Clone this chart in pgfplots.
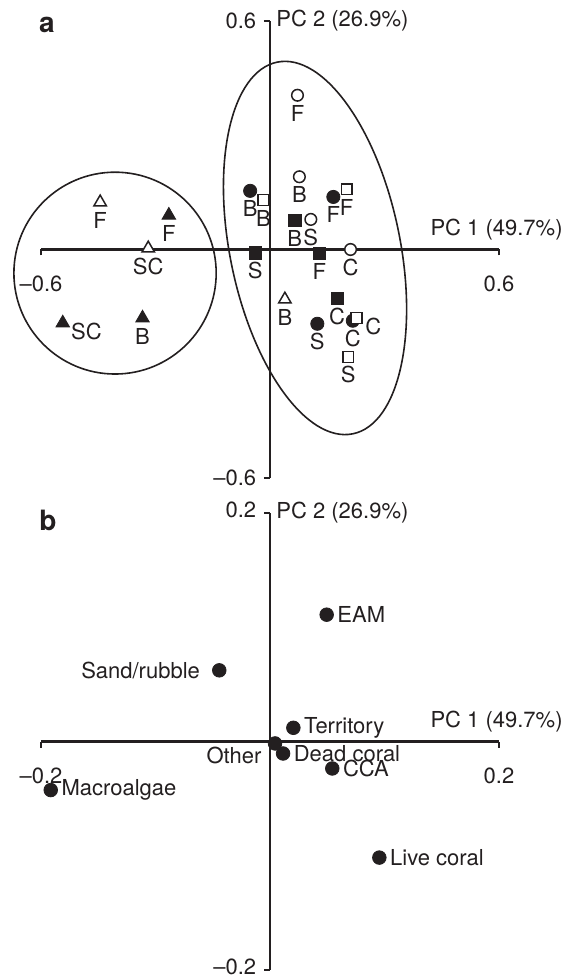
\documentclass[border=0pt]{standalone}
\usepackage{fontspec}
\setmainfont{TeX Gyre Heros}
\usepackage{pgfplots}
\pgfplotsset{compat=1.18}
\definecolor{ink}{RGB}{35,31,32}
\newcommand{\fsz}{\fontsize{11}{13}\selectfont}

\pgfplotsset{
  pca/.style={
    scale only axis, width=229pt, height=228.5pt,
    axis lines=middle,
    axis line style={-, line width=1.1pt, ink},
    clip=false,
    tick align=outside, major tick length=3pt,
    tick style={line width=1.1pt, ink},
    tick label style={font=\fsz, text=ink},
    xticklabel style={anchor=center, yshift=-14pt, inner sep=1pt},
    yticklabel style={anchor=east, inner sep=1pt, xshift=-2.7pt},
    every axis x label/.style={at={(axis description cs:1,0.5)}, anchor=east,
      xshift=32pt, yshift=10pt, font=\fsz, text=ink, inner sep=0pt},
    every axis y label/.style={at={(axis description cs:0.5,1)}, anchor=west,
      xshift=3pt, font=\fsz, text=ink, inner sep=0pt},
    xlabel={PC 1 (49.7\%)}, ylabel={PC 2 (26.9\%)},
  },
  lab/.style={nodes near coords, point meta=explicit symbolic,
    every node near coord/.append style={font=\fsz, text=ink, inner sep=0pt}},
  below lab/.style={lab, every node near coord/.append style={anchor=center, yshift=-9pt}},
  right lab/.style={lab, every node near coord/.append style={anchor=west, xshift=4pt, yshift=-4.2pt}},
  side lab/.style={lab, every node near coord/.append style={anchor=west, xshift=5.2pt}},
  full/.style={only marks, color=ink, mark options={fill=ink, draw=ink}},
  open/.style={only marks, color=ink, mark options={fill=white, draw=ink, line width=0.75pt}},
}

\begin{document}
\begin{tikzpicture}
\useasboundingbox (-20.5pt,-250.5pt) rectangle (264.5pt,239pt);

\node[font=\bfseries\fontsize{14}{16}\selectfont, text=ink] at (3pt,226.5pt) {a};
\node[font=\bfseries\fontsize{14}{16}\selectfont, text=ink] at (3.5pt,-21pt) {b};

% panel a: site scores
\begin{axis}[pca, at={(0,0)}, anchor=south west,
    xmin=-0.6, xmax=0.6, ymin=-0.6, ymax=0.6,
    xtick={-0.6,0.6}, xticklabels={\textendash0.6, 0.6},
    ytick={-0.6,0.6}, yticklabels={\textendash0.6, 0.6}]

\draw[line width=0.8pt, ink] (axis cs:-0.406,-0.062) circle [radius=0.265];
\draw[line width=0.8pt, ink, rotate around={11.5:(axis cs:0.118,0.004)}]
  (axis cs:0.118,0.004) ellipse [x radius=0.223, y radius=0.498];

% filled circles
\addplot[full, mark=*, mark size=3.3pt, below lab] coordinates {
  (-0.052,0.154) [B] (0.166,0.138) [F] (0.124,-0.195) [S] (0.217,-0.187) [C]};
% filled squares
\addplot[full, mark=square*, mark size=3.1pt, below lab] coordinates {
  (-0.039,-0.009) [S] (0.065,0.077) [B] (0.129,-0.010) [F] (0.176,-0.128) [C]};
% filled triangles
\addplot[full, mark=triangle*, mark size=3.9pt, below lab] coordinates {
  (-0.265,0.090) [F] (-0.334,-0.180) [B]};
\addplot[full, mark=triangle*, mark size=3.9pt, right lab] coordinates {
  (-0.543,-0.193) [SC]};
% open circles
\addplot[open, mark=*, mark size=2.9pt, below lab] coordinates {
  (0.072,0.405) [F] (0.077,0.191) [B] (0.107,0.079) [S] (0.211,0.000) [C]};
% open squares
\addplot[open, mark=square*, mark size=2.7pt, below lab] coordinates {
  (-0.017,0.130) [B] (0.201,0.158) [F] (0.205,-0.282) [S]};
\addplot[open, mark=square*, mark size=2.7pt, right lab] coordinates {
  (0.227,-0.180) [C]};
% open triangles
\addplot[open, mark=triangle*, mark size=3.6pt, below lab] coordinates {
  (-0.445,0.124) [F] (-0.319,0.003) [SC] (0.039,-0.131) [B]};
\end{axis}

% panel b: variable loadings
\begin{axis}[pca, at={(0,-246pt)}, anchor=south west,
    xmin=-0.2, xmax=0.2, ymin=-0.2, ymax=0.2,
    xtick={-0.2,0.2}, xticklabels={\textendash0.2, 0.2},
    ytick={-0.2,0.2}, yticklabels={\textendash0.2, 0.2},
    yticklabel style={yshift=1.5pt}]
\addplot[full, mark=*, mark size=3.4pt, side lab] coordinates {
  (0.0495,0.111) [EAM] (0.0204,0.012) [Territory] (0.0114,-0.0105) [Dead coral]
  (0.0544,-0.0236) [CCA] (0.0955,-0.1016) [Live coral] (-0.1915,-0.0425) [Macroalgae]};
\addplot[full, mark=*, mark size=3.4pt, lab,
  every node near coord/.append style={anchor=east, xshift=-9.5pt}] coordinates {
  (-0.0443,0.0623) [Sand/rubble]};
\addplot[full, mark=*, mark size=3.4pt, lab,
  every node near coord/.append style={anchor=east, xshift=-6.6pt, yshift=-5.8pt}] coordinates {
  (0.0044,-0.0017) [Other]};
\end{axis}
\end{tikzpicture}
\end{document}
